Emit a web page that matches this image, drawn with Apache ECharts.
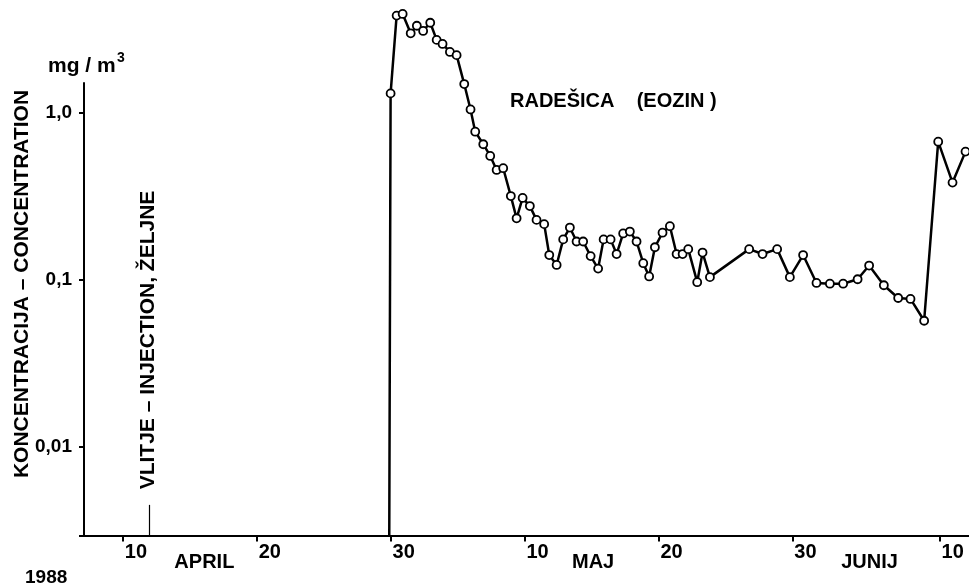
<!DOCTYPE html>
<html>
<head>
<meta charset="utf-8">
<title>Radešica (eozin)</title>
<script src="https://cdn.jsdelivr.net/npm/echarts@6.0.0/dist/echarts.min.js"></script>
<style>
  html, body { margin: 0; padding: 0; background: #fff; }
  #container { width: 969px; height: 586px; }
</style>
</head>
<body>
<div id="container"></div>
<script>
"use strict";

// 横轴: 日数 (从 3 月 31 日起算, 4 月 10 日 = 10, 5 月 10 日 = 40, 6 月 10 日 = 71)
let tickDays = [10, 20, 30, 40, 50, 60, 71];
let tickLabels = ['10', '20', '30', '10', '20', '30', '10'];
let monthDays = [13.7, 43.4, 63.5];
let monthNames = ['APRIL', 'MAJ', 'JUNIJ'];

// 纵轴 (对数)
let yMin = 0.00295;
let yMax = 10;
let yLabels = { '1': '1,0', '0.1': '0,1', '0.01': '0,01' };

// 浓度 mg/m3
let days = [29.9, 30.0, 30.45, 30.9, 31.5, 31.96, 32.43, 32.96, 33.44, 33.88,
  34.43, 34.93, 35.5, 35.97, 36.32, 36.92, 37.44, 37.92, 38.41, 38.98,
  39.41, 39.86, 40.4, 40.9, 41.47, 41.85, 42.4, 42.89, 43.39, 43.89,
  44.38, 44.94, 45.5, 45.91, 46.43, 46.88, 47.37, 47.87, 48.37, 48.87,
  49.31, 49.74, 50.31, 50.86, 51.36, 51.81, 52.23, 52.9, 53.3, 53.85,
  56.78, 57.78, 58.87, 59.82, 60.81, 61.81, 62.81, 63.8, 64.88, 65.74,
  66.84, 67.91, 68.83, 69.85, 70.9, 71.97, 72.94];
let conc = [yMin, 1.31, 3.83, 3.92, 3.0, 3.33, 3.1, 3.47, 2.74, 2.59,
  2.32, 2.22, 1.49, 1.05, 0.773, 0.65, 0.553, 0.456, 0.467, 0.318,
  0.234, 0.31, 0.277, 0.229, 0.216, 0.141, 0.123, 0.175, 0.206, 0.17,
  0.17, 0.139, 0.117, 0.175, 0.175, 0.143, 0.19, 0.195, 0.17, 0.126,
  0.105, 0.157, 0.192, 0.21, 0.143, 0.143, 0.153, 0.097, 0.146, 0.104,
  0.153, 0.143, 0.153, 0.104, 0.141, 0.096, 0.095, 0.095, 0.101, 0.122,
  0.093, 0.078, 0.077, 0.057, 0.673, 0.383, 0.587];

// 注入日 (4 月 12 日) 和纵轴线顶端
let injectionDay = 12;
let injectionTop = 0.0045;
let xMin = 7.1;
let xMax = 73.2;
let axisTop = 1.53;

let font = '"Liberation Sans", Arial, sans-serif';

let myChart = echarts.init(document.getElementById('container'), null, { renderer: 'canvas' });

let seriesData = days.map(function (d, i) {
  let item = { value: [d, conc[i]] };
  if (i === 0) {
    item.symbol = 'none'; // 起点落在横轴上
  }
  return item;
});

let option = {
  animation: false,
  backgroundColor: '#fff',
  grid: {
    left: 84,
    right: 0,
    top: -54,
    bottom: 50.5,
    containLabel: false,
    outerBoundsMode: 'none',
  },
  xAxis: {
    type: 'value',
    min: xMin,
    max: xMax,
    splitLine: { show: false },
    axisLine: {
      show: true,
      onZero: false,
      lineStyle: { color: '#000', width: 2 },
    },
    axisTick: {
      show: true,
      length: 6,
      customValues: tickDays,
      lineStyle: { color: '#000', width: 2 },
    },
    axisLabel: {
      customValues: tickDays.concat(monthDays),
      align: 'left',
      margin: 7,
      color: '#000',
      fontFamily: font,
      fontWeight: 'bold',
      fontSize: 20,
      padding: [0, 0, 0, 2],
      formatter: function (value) {
        for (let i = 0; i < tickDays.length; i++) {
          if (Math.abs(value - tickDays[i]) < 1e-6) return tickLabels[i];
        }
        for (let i = 0; i < monthDays.length; i++) {
          if (Math.abs(value - monthDays[i]) < 1e-6) return '{m|' + monthNames[i] + '}';
        }
        return '';
      },
      rich: {
        m: {
          color: '#000',
          fontFamily: font,
          fontWeight: 'bold',
          fontSize: 20,
          padding: [10, 0, 0, 0],
        },
      },
    },
  },
  yAxis: {
    type: 'log',
    logBase: 10,
    min: yMin,
    max: yMax,
    splitLine: { show: false },
    axisLine: { show: false },
    axisTick: {
      show: true,
      length: 5,
      lineStyle: { color: '#000', width: 2 },
    },
    axisLabel: {
      margin: 12,
      color: '#000',
      fontFamily: font,
      fontWeight: 'bold',
      fontSize: 19,
      padding: [0, 0, 6, 0],
      formatter: function (value) {
        let key = String(+value.toPrecision(6));
        return yLabels[key] || '';
      },
    },
  },
  series: [
    {
      name: 'RADEŠICA',
      type: 'line',
      data: seriesData,
      symbol: 'circle',
      symbolSize: 8,
      showSymbol: true,
      clip: true,
      lineStyle: { color: '#000', width: 2.5 },
      itemStyle: { color: '#fff', borderColor: '#000', borderWidth: 1.8 },
      z: 3,
      markLine: {
        silent: true,
        symbol: ['none', 'none'],
        label: { show: false },
        animation: false,
        data: [
          [ // 纵轴线
            { coord: [xMin, yMin], lineStyle: { color: '#000', width: 2, type: 'solid' } },
            { coord: [xMin, axisTop] },
          ],
          [ // 注入标记
            { coord: [injectionDay, yMin], lineStyle: { color: '#000', width: 1.2, type: 'solid' } },
            { coord: [injectionDay, injectionTop] },
          ],
        ],
      },
    },
  ],
  graphic: [
    { // 单位
      type: 'text',
      left: 48,
      top: 56,
      style: { text: 'mg / m', fill: '#000', font: 'bold 21px ' + font },
    },
    {
      type: 'text',
      left: 117,
      top: 51,
      style: { text: '3', fill: '#000', font: 'bold 14px ' + font },
    },
    { // 纵轴标题
      type: 'text',
      x: 22,
      y: 284,
      rotation: Math.PI / 2,
      style: {
        text: 'KONCENTRACIJA – CONCENTRATION',
        fill: '#000',
        font: 'bold 21px ' + font,
        textAlign: 'center',
        textVerticalAlign: 'middle',
      },
    },
    { // 注入
      type: 'text',
      x: 148,
      y: 340,
      rotation: Math.PI / 2,
      style: {
        text: 'VLITJE – INJECTION, ŽELJNE',
        fill: '#000',
        font: 'bold 21px ' + font,
        textAlign: 'center',
        textVerticalAlign: 'middle',
      },
    },
    { // 地点
      type: 'text',
      left: 510,
      top: 91,
      style: { text: 'RADEŠICA    (EOZIN )', fill: '#000', font: 'bold 20px ' + font },
    },
    { // 年份
      type: 'text',
      left: 25,
      top: 568,
      style: { text: '1988', fill: '#000', font: 'bold 19px ' + font },
    },
  ],
};

myChart.setOption(option);
</script>
</body>
</html>
